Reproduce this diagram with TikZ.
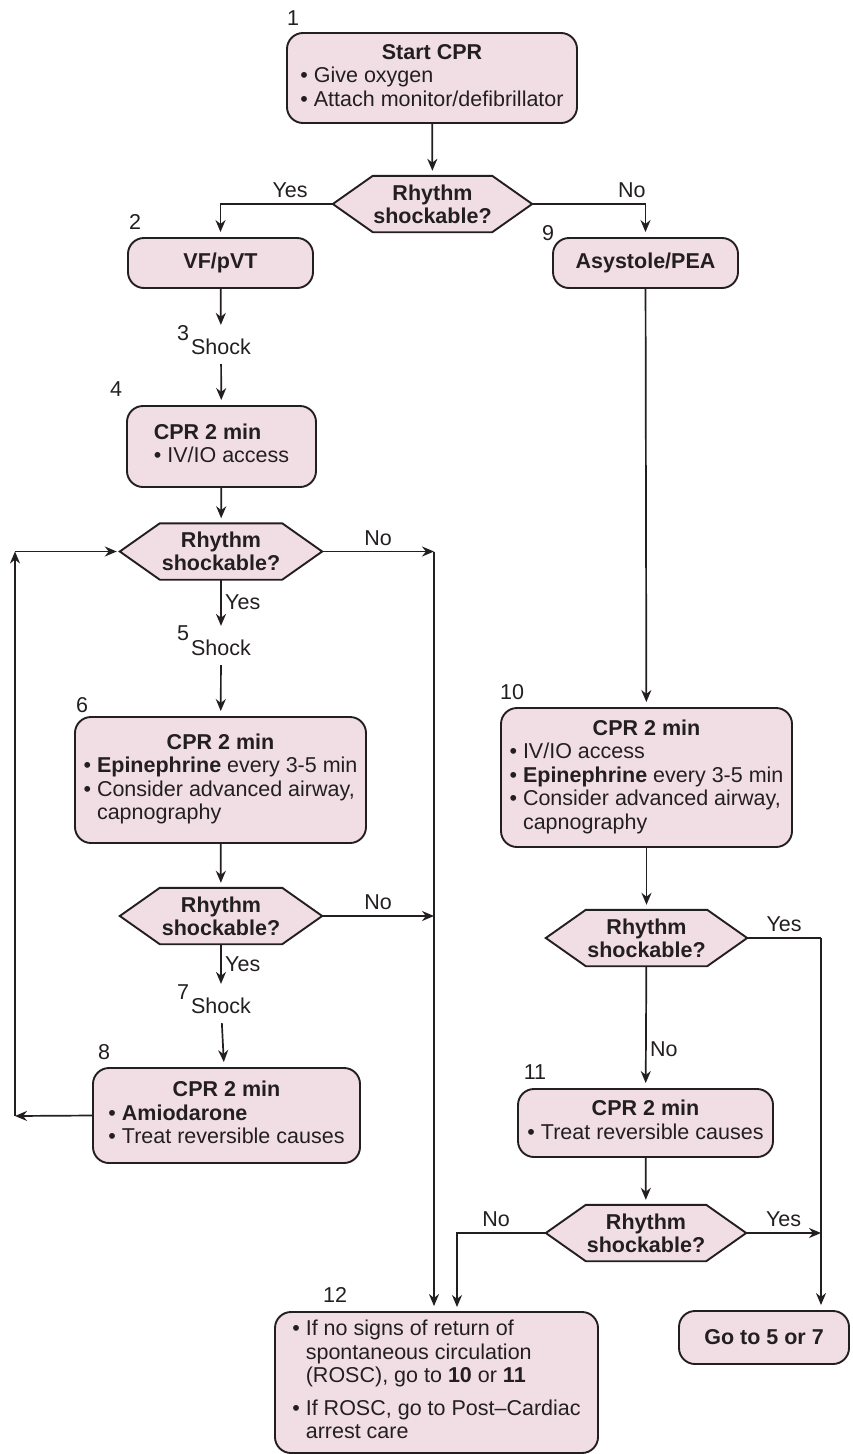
\documentclass[tikz,border=0pt]{standalone}
\usepackage{fontspec}
\setmainfont{Liberation Sans}
\usepackage{tikz}
\usetikzlibrary{arrows.meta, positioning, backgrounds}
\definecolor{acdark}{HTML}{231F20}
\definecolor{acpink}{HTML}{F1DEE4}
\newcommand{\hd}[1]{\multicolumn{1}{@{}c@{}}{\bfseries #1}}
\newcommand{\bul}{\textbullet\ }
\tikzset{
  box/.style={draw=acdark, fill=acpink, line width=1.9pt, rounded corners=16pt,
              inner sep=0pt, align=center, text=acdark,
              font=\fontsize{21.5}{23.5}\selectfont},
  boldbox/.style={box, font=\fontsize{21.5}{23.5}\selectfont\bfseries},
  hexnode/.style={inner sep=0pt, minimum width=202pt, minimum height=56pt,
                  align=center, text=acdark, font=\fontsize{21.5}{23}\selectfont\bfseries},
  hexline/.style={draw=acdark, fill=acpink, line width=1.9pt, line join=miter},
  flow/.style={-{Stealth[length=12pt, width=10pt]}, line width=1.7pt, draw=acdark,
               shorten >=5pt},
  turn/.style={-{Stealth[length=12pt, width=10pt]}, line width=1.7pt, draw=acdark},
  link/.style={line width=1.7pt, draw=acdark},
  lbl/.style={font=\fontsize{21.5}{24}\selectfont, text=acdark},
  shock/.style={lbl, inner xsep=2pt, inner ysep=9pt},
  num/.style={lbl, inner sep=0pt},
}

\begin{document}
\begin{tikzpicture}[x=1pt, y=-1pt]
  \useasboundingbox (0,0) rectangle (853,1454);

  % top
  \node[box, minimum width=290pt, minimum height=90pt] (b1) at (432,78)
    {\begin{tabular}{@{}l@{}}\hd{Start CPR}\\ \bul Give oxygen\\ \bul Attach monitor/defibrillator\end{tabular}};
  \node[hexnode, minimum width=199pt] (q1) at (432.5,204) {Rhythm\\ shockable?};
  \node[boldbox, minimum width=185pt, minimum height=50pt] (b2) at (220.5,263) {VF/pVT};
  \node[boldbox, minimum width=185pt, minimum height=50pt] (b9) at (645.5,263) {Asystole/PEA};

  % shockable side
  \node[shock] (s3) at (221,347) {Shock};
  \node[box, minimum width=189pt, minimum height=81pt] (b4) at (221.5,446.5)
    {\begin{tabular}{@{}l@{}}\textbf{CPR 2 min}\\ \bul IV/IO access\end{tabular}};
  \node[hexnode] (q2) at (221,551.5) {Rhythm\\ shockable?};
  \node[shock] (s5) at (221,648) {Shock};
  \node[box, minimum width=291pt, minimum height=126pt] (b6) at (220.5,780)
    {\begin{tabular}{@{}l@{}}\hd{CPR 2 min}\\ \bul\textbf{Epinephrine} every 3-5 min\\
     \bul Consider advanced airway,\\ \phantom{\bul}capnography\end{tabular}};
  \node[hexnode] (q3) at (221,916) {Rhythm\\ shockable?};
  \node[shock] (s7) at (221,1006) {Shock};
  \node[box, minimum width=267pt, minimum height=95pt] (b8) at (226.5,1115.5)
    {\begin{tabular}{@{}l@{}}\hd{CPR 2 min}\\ \bul\textbf{Amiodarone}\\ \bul Treat reversible causes\end{tabular}};

  % non-shockable side
  \node[box, minimum width=291pt, minimum height=139pt] (b10) at (646.5,777.5)
    {\begin{tabular}{@{}l@{}}\hd{CPR 2 min}\\ \bul IV/IO access\\ \bul\textbf{Epinephrine} every 3-5 min\\
     \bul Consider advanced airway,\\ \phantom{\bul}capnography\end{tabular}};
  \node[hexnode, minimum width=201pt] (q4) at (646.5,938) {Rhythm\\ shockable?};
  \node[box, minimum width=255pt, minimum height=68pt] (b11) at (645.5,1123)
    {\begin{tabular}{@{}l@{}}\hd{CPR 2 min}\\ \bul Treat reversible causes\end{tabular}};
  \node[hexnode, minimum width=200pt] (q5) at (646,1233) {Rhythm\\ shockable?};

  % bottom
  \node[box, minimum width=323pt, minimum height=141pt] (b12) at (436.5,1382.5)
    {\begin{tabular}{@{}l@{}}\bul If no signs of return of\\ \phantom{\bul}spontaneous circulation\\
     \phantom{\bul}(ROSC), go to \textbf{10} or \textbf{11}\\[9pt]
     \bul If ROSC, go to Post--Cardiac\\ \phantom{\bul}arrest care\end{tabular}};
  \node[boldbox, minimum width=170pt, minimum height=53pt] (bgo) at (764,1337.5) {Go to 5 or 7};

  % step numbers
  \node[num] (n1) at (293,18) {1};
  \node[num] (n2) at (135,222) {2};
  \node[num] (n3) at (183,333) {3};
  \node[num] (n4) at (116,389) {4};
  \node[num] (n5) at (183,633) {5};
  \node[num] (n6) at (82,705) {6};
  \node[num] (n7) at (183,992) {7};
  \node[num] (n8) at (104,1052) {8};
  \node[num] (n9) at (548,233) {9};
  \node[num] (n10) at (512,692) {10};
  \node[num] (n11) at (535,1072) {11};
  \node[num] (n12) at (335,1295) {12};

  \coordinate (lbot) at (15,1116);
  \coordinate (ltop) at (15,551.5);
  \coordinate (rtop) at (434,551.5);
  \coordinate (rmid) at (434,916);
  \coordinate (ryes) at (821,938);

  \draw[flow] (b1) -- (q1);
  \draw[flow] (q1.west) -| node[lbl, above=2pt, pos=0.19]{Yes} (b2.north);
  \draw[flow] (q1.east) -| node[lbl, above=2pt, pos=0.44]{No} (b9.north);

  \draw[flow] (b2) -- (s3);
  \draw[flow] (s3) -- (b4);
  \draw[flow] (b4) -- (q2);
  \draw[flow] (q2) -- node[lbl, right, pos=0.44]{Yes} (s5);
  \draw[flow] (s5) -- (b6);
  \draw[flow] (b6) -- (q3);
  \draw[flow] (q3) -- node[lbl, right, pos=0.44]{Yes} (s7);
  \draw[flow] (s7) -- (b8);

  % loop back
  \draw[turn] (b8.west) -- (lbot);
  \draw[turn] (lbot) -- (ltop);
  \draw[flow, shorten >=3pt] (ltop) -- (q2.west);

  % no -> 12
  \draw[turn] (q2.east) -- node[lbl, above=2pt]{No} (rtop);
  \draw[turn] (q3.east) -- node[lbl, above=2pt]{No} (rmid);
  \draw[flow] (rtop) -- (rtop |- b12.north);

  \draw[flow] (b9) -- (b10);
  \draw[flow] (b10) -- (q4);
  \draw[link] (q4.east) -- node[lbl, above=2pt]{Yes} (ryes);
  \draw[flow] (ryes) -- (ryes |- bgo.north);
  \draw[flow] (q4) -- node[lbl, right, pos=0.68]{No} (b11);
  \draw[flow] (b11) -- (q5);
  \draw[turn] (q5.east) -- node[lbl, above=2pt]{Yes} (q5.east -| ryes);
  \draw[flow] (q5.west) -| node[lbl, above=2pt, pos=0.28]{No} (457,1312);

  \begin{scope}[on background layer]
    \fill[white] (0,0) rectangle (853,1454);
    \foreach \n in {q1,q2,q3,q4,q5}
      \draw[hexline] (\n.west) -- ([xshift=40pt]\n.north west) -- ([xshift=-40pt]\n.north east)
        -- (\n.east) -- ([xshift=-40pt]\n.south east) -- ([xshift=40pt]\n.south west) -- cycle;
  \end{scope}
\end{tikzpicture}
\end{document}
